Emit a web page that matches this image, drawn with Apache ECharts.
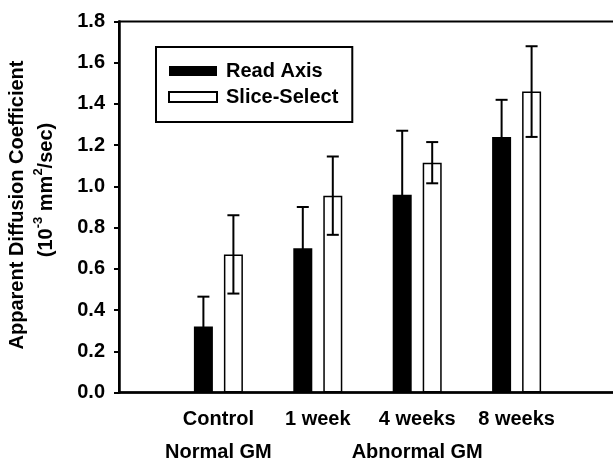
<!DOCTYPE html>
<html>
<head>
<meta charset="utf-8">
<script src="https://cdn.jsdelivr.net/npm/echarts@6/dist/echarts.min.js"></script>
<style>
html,body{margin:0;padding:0;background:#fff;}
#chart{width:613px;height:460px;}
</style>
</head>
<body>
<div id="chart"></div>
<script>
// ---- data ----
const categories = ['Control', '1 week', '4 weeks', '8 weeks'];
const readAxis = [0.32, 0.70, 0.96, 1.24];
const readAxisErr = [0.145, 0.20, 0.31, 0.18];
const sliceSelect = [0.67, 0.955, 1.115, 1.46];
const sliceSelectErr = [0.19, 0.19, 0.10, 0.22];
const yTicks = [0.0, 0.2, 0.4, 0.6, 0.8, 1.0, 1.2, 1.4, 1.6, 1.8];
const groupLabels = [
  { text: 'Normal GM', from: 'Control', to: 'Control' },
  { text: 'Abnormal GM', from: '1 week', to: '8 weeks' }
];

// ---- layout/style ----
const FONT = "'Liberation Sans', Arial, sans-serif";
const BAR_W = 19;
const GAP_PX = 11;
const OFF = (BAR_W + GAP_PX) / 2;

const axisCats = [''].concat(categories, ['']);
const pad = arr => ['-'].concat(arr, ['-']);

function errData(vals, errs) {
  return vals.map((v, i) => [i + 1, v, errs[i]]);
}
function errRender(offset) {
  return function (params, api) {
    const idx = api.value(0), v = api.value(1), e = api.value(2);
    const top = api.coord([idx, v + e]);
    const bot = api.coord([idx, v - e]);
    const x = top[0] + offset;
    const cap = 6;
    const st = { stroke: '#000', lineWidth: 2 };
    return {
      type: 'group',
      children: [
        { type: 'line', shape: { x1: x, y1: top[1], x2: x, y2: bot[1] }, style: st },
        { type: 'line', shape: { x1: x - cap, y1: top[1], x2: x + cap, y2: top[1] }, style: st },
        { type: 'line', shape: { x1: x - cap, y1: bot[1], x2: x + cap, y2: bot[1] }, style: st }
      ]
    };
  };
}

const chart = echarts.init(document.getElementById('chart'), null, { renderer: 'canvas' });
const option = {
  backgroundColor: '#fff',
  animation: false,
  textStyle: { fontFamily: FONT },
  grid: {
    left: 119, width: 497, top: 21.5, bottom: 67.5,
    outerBoundsMode: 'none', containLabel: false,
    show: true, borderColor: '#000', borderWidth: 2
  },
  legend: {
    show: true,
    selectedMode: false,
    orient: 'vertical',
    left: 156, top: 47,
    icon: 'rect',
    itemWidth: 48, itemHeight: 10,
    itemGap: 6,
    padding: [14, 14, 15, 12],
    borderColor: '#000', borderWidth: 2,
    backgroundColor: '#fff',
    textStyle: { fontFamily: FONT, fontSize: 20, fontWeight: 'bold', color: '#000', padding: [0, 0, 0, 4] },
    data: ['Read Axis', 'Slice-Select']
  },
  xAxis: {
    type: 'category',
    data: axisCats,
    boundaryGap: false,
    axisLine: { lineStyle: { color: '#000', width: 2.5 } },
    axisTick: { show: false },
    axisLabel: { interval: 0, margin: 17, color: '#000', fontFamily: FONT, fontSize: 20, fontWeight: 'bold' },
    splitLine: { show: false }
  },
  yAxis: {
    type: 'value',
    min: yTicks[0], max: yTicks[yTicks.length - 1], interval: 0.2,
    axisLine: { show: true, lineStyle: { color: '#000', width: 2.5 } },
    axisTick: { show: true, length: 5, lineStyle: { color: '#000', width: 2 } },
    axisLabel: { margin: 14, color: '#000', fontFamily: FONT, fontSize: 20, fontWeight: 'bold',
      formatter: v => v.toFixed(1) },
    splitLine: { show: false }
  },
  series: [
    {
      name: 'Read Axis', type: 'bar', data: pad(readAxis),
      barWidth: BAR_W, barGap: (GAP_PX / BAR_W * 100).toFixed(1) + '%',
      itemStyle: { color: '#000', borderColor: '#000', borderWidth: 0 }
    },
    {
      name: 'Slice-Select', type: 'bar', data: pad(sliceSelect),
      barWidth: BAR_W,
      itemStyle: { color: '#fff', borderColor: '#000', borderWidth: 1.5 }
    },
    {
      type: 'custom', name: 'errRead', data: errData(readAxis, readAxisErr),
      renderItem: errRender(-OFF), z: 5, silent: true
    },
    {
      type: 'custom', name: 'errSlice', data: errData(sliceSelect, sliceSelectErr),
      renderItem: errRender(OFF), z: 5, silent: true
    }
  ]
};
chart.setOption(option);

// ---- annotations ----
const px = name => chart.convertToPixel({ xAxisIndex: 0 }, axisCats.indexOf(name));
const graphics = groupLabels.map(g => ({
  type: 'text',
  x: (px(g.from) + px(g.to)) / 2,
  y: 452,
  style: { text: g.text, fontFamily: FONT, fontSize: 20, fontWeight: 'bold', fill: '#000',
    textAlign: 'center', textVerticalAlign: 'middle' }
}));
graphics.push({
  type: 'text', x: 17.5, y: 205, rotation: Math.PI / 2,
  style: { text: 'Apparent Diffusion Coefficient', fontFamily: FONT, fontSize: 20, fontWeight: 'bold',
    fill: '#000', textAlign: 'center', textVerticalAlign: 'middle' }
});
graphics.push({
  type: 'text', x: 46, y: 190, rotation: Math.PI / 2,
  style: {
    text: '{n|(10}{s|-3}{n| mm}{s|2}{n|/sec)}',
    fill: '#000', textAlign: 'center', textVerticalAlign: 'middle',
    rich: {
      n: { fontFamily: FONT, fontSize: 20, fontWeight: 'bold', lineHeight: 28, verticalAlign: 'middle' },
      s: { fontFamily: FONT, fontSize: 13, fontWeight: 'bold', verticalAlign: 'top' }
    }
  }
});
chart.setOption({ graphic: graphics });
</script>
</body>
</html>
